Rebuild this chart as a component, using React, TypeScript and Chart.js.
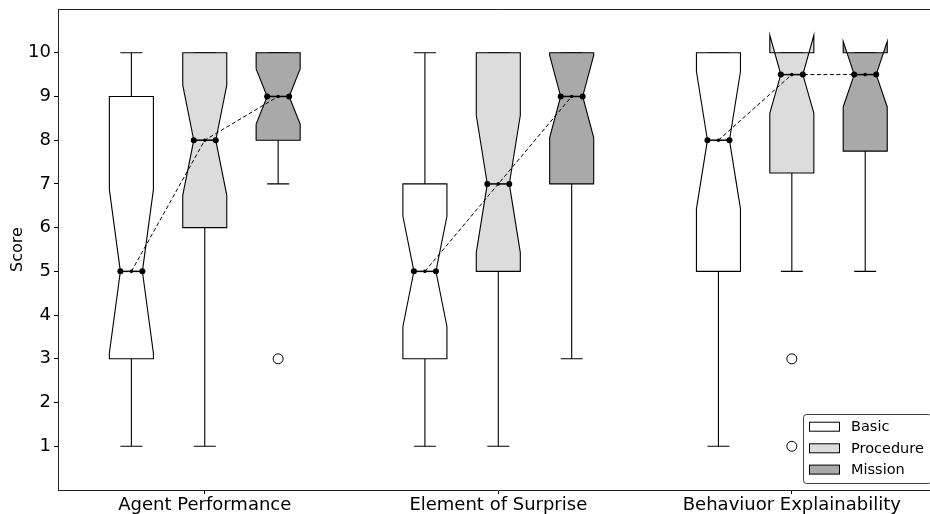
import React, { useEffect, useRef } from 'react';
import { Chart, registerables } from 'chart.js';

Chart.register(...registerables);

const categories = ['Agent Performance', 'Element of Surprise', 'Behaviuor Explainability'];
const categoryTicks = [2, 6, 10];
const seriesNames = ['Basic', 'Procedure', 'Mission'];
const seriesColors = ['#ffffff', '#dcdcdc', '#a9a9a9'];
const yTicks = [1, 2, 3, 4, 5, 6, 7, 8, 9, 10];

// [lower whisker, Q1, median, Q3, upper whisker] per category
const basicStats = [[1, 3, 5, 9, 10], [1, 3, 5, 7, 10], [1, 5, 8, 10, 10]];
const procedureStats = [[1, 6, 8, 10, 10], [1, 5, 7, 10, 10], [5, 7.25, 9.5, 10, 10]];
const missionStats = [[7, 8, 9, 10, 10], [3, 7, 9, 10, 10], [5, 7.75, 9.5, 10, 10]];

// [notch low, notch high] per category
const basicNotches = [[3.13, 6.87], [3.74, 6.26], [6.43, 9.57]];
const procedureNotches = [[6.74, 9.26], [5.43, 8.57], [8.62, 10.4]];
const missionNotches = [[8.37, 9.63], [8.06, 9.94], [8.76, 10.26]];

// outliers per category
const basicOutliers = [[], [], []];
const procedureOutliers = [[], [], [3, 1]];
const missionOutliers = [[3], [], []];

const allStats = [basicStats, procedureStats, missionStats];
const allNotches = [basicNotches, procedureNotches, missionNotches];
const allOutliers = [basicOutliers, procedureOutliers, missionOutliers];

const BOX_W = 0.6;
const FONT = "'DejaVu Sans', sans-serif";
const posOf = (g: number, s: number) => g * 4 + s + 1;

const boxPlugin = {
  id: 'notchBoxes',
  beforeDatasetsDraw(chart: any) {
    const { ctx, chartArea } = chart;
    const x = chart.scales.x;
    const y = chart.scales.y;
    ctx.save();
    // top spine
    ctx.strokeStyle = '#222';
    ctx.lineWidth = 1;
    ctx.beginPath();
    ctx.moveTo(chartArea.left, chartArea.top + 0.5);
    ctx.lineTo(chartArea.right, chartArea.top + 0.5);
    ctx.stroke();

    ctx.strokeStyle = '#000';
    ctx.lineWidth = 1.1;
    ctx.lineJoin = 'miter';
    for (let s = 0; s < 3; s++) {
      for (let g = 0; g < categories.length; g++) {
        const [lo, q1, med, q3, hi] = allStats[s][g];
        const [nlo, nhi] = allNotches[s][g];
        const p = posOf(g, s);
        const L = x.getPixelForValue(p - BOX_W / 2);
        const R = x.getPixelForValue(p + BOX_W / 2);
        const CL = x.getPixelForValue(p - BOX_W / 4);
        const CR = x.getPixelForValue(p + BOX_W / 4);
        const C = x.getPixelForValue(p);
        // whiskers
        ctx.beginPath();
        ctx.moveTo(C, y.getPixelForValue(q1));
        ctx.lineTo(C, y.getPixelForValue(lo));
        ctx.moveTo(C, y.getPixelForValue(q3));
        ctx.lineTo(C, y.getPixelForValue(hi));
        ctx.moveTo(CL, y.getPixelForValue(lo));
        ctx.lineTo(CR, y.getPixelForValue(lo));
        ctx.moveTo(CL, y.getPixelForValue(hi));
        ctx.lineTo(CR, y.getPixelForValue(hi));
        ctx.stroke();
        // notched box
        const pts: [number, number][] = [
          [L, q1], [L, nlo], [CL, med], [L, nhi], [L, q3],
          [R, q3], [R, nhi], [CR, med], [R, nlo], [R, q1],
        ];
        ctx.beginPath();
        pts.forEach(([px, v], i) => {
          const py = y.getPixelForValue(v);
          if (i === 0) ctx.moveTo(px, py); else ctx.lineTo(px, py);
        });
        ctx.closePath();
        ctx.fillStyle = seriesColors[s];
        ctx.fill();
        ctx.stroke();
      }
    }
    ctx.restore();
  },
  afterDatasetsDraw(chart: any) {
    const { ctx } = chart;
    const x = chart.scales.x;
    const y = chart.scales.y;
    ctx.save();
    for (let s = 0; s < 3; s++) {
      for (let g = 0; g < categories.length; g++) {
        const med = allStats[s][g][2];
        const p = posOf(g, s);
        const CL = x.getPixelForValue(p - BOX_W / 4);
        const CR = x.getPixelForValue(p + BOX_W / 4);
        const py = y.getPixelForValue(med);
        ctx.strokeStyle = '#000';
        ctx.lineWidth = 1.5;
        ctx.beginPath();
        ctx.moveTo(CL, py);
        ctx.lineTo(CR, py);
        ctx.stroke();
        ctx.fillStyle = '#000';
        [CL, CR].forEach((px) => {
          ctx.beginPath();
          ctx.arc(px, py, 3, 0, Math.PI * 2);
          ctx.fill();
        });
      }
    }
    ctx.restore();
  },
  afterDraw(chart: any) {
    const { ctx } = chart;
    const left = 803.5, top = 414.5, w = 128, h = 69, r = 3;
    ctx.save();
    ctx.beginPath();
    ctx.moveTo(left + r, top);
    ctx.lineTo(left + w - r, top);
    ctx.arcTo(left + w, top, left + w, top + r, r);
    ctx.lineTo(left + w, top + h - r);
    ctx.arcTo(left + w, top + h, left + w - r, top + h, r);
    ctx.lineTo(left + r, top + h);
    ctx.arcTo(left, top + h, left, top + h - r, r);
    ctx.lineTo(left, top + r);
    ctx.arcTo(left, top, left + r, top, r);
    ctx.closePath();
    ctx.fillStyle = 'rgba(255,255,255,0.8)';
    ctx.fill();
    ctx.strokeStyle = 'rgba(0,0,0,0.75)';
    ctx.lineWidth = 1;
    ctx.stroke();
    const rows = [426.7, 448.3, 469.6];
    ctx.font = `14.5px ${FONT}`;
    ctx.textBaseline = 'middle';
    ctx.textAlign = 'left';
    seriesNames.forEach((name, i) => {
      const cy = rows[i];
      ctx.fillStyle = seriesColors[i];
      ctx.fillRect(809.5, cy - 4.5, 30, 9);
      ctx.strokeStyle = '#000';
      ctx.strokeRect(809.5, cy - 4.5, 30, 9);
      ctx.fillStyle = '#000';
      ctx.fillText(name, 851, cy + 0.5);
    });
    ctx.restore();
  },
};

export default function App() {
  const canvasRef = useRef<HTMLCanvasElement | null>(null);

  useEffect(() => {
    if (!canvasRef.current) return;
    Chart.defaults.color = '#000';
    const medianLines = categories.map((_, g) => ({
      type: 'line' as const,
      data: allStats.map((st, s) => ({ x: posOf(g, s), y: st[g][2] })),
      borderColor: '#000',
      borderWidth: 1,
      borderDash: [4, 2.5],
      pointRadius: 1.8,
      pointBackgroundColor: '#000',
      pointBorderWidth: 0,
      showLine: true,
      fill: false,
      tension: 0,
    }));
    const outlierData: { x: number; y: number }[] = [];
    allOutliers.forEach((arr, s) =>
      arr.forEach((vals, g) => vals.forEach((v) => outlierData.push({ x: posOf(g, s), y: v })))
    );
    const chart = new Chart(canvasRef.current, {
      type: 'scatter',
      data: {
        datasets: [
          ...medianLines,
          {
            type: 'scatter' as const,
            data: outlierData,
            pointRadius: 5,
            pointBackgroundColor: 'rgba(255,255,255,0)',
            pointBorderColor: '#000',
            pointBorderWidth: 1,
          },
        ] as any,
      },
      options: {
        animation: false,
        responsive: true,
        maintainAspectRatio: false,
        layout: { padding: { left: 0, top: 9, right: 21.4, bottom: 0 } },
        plugins: { legend: { display: false }, tooltip: { enabled: false } },
        scales: {
          x: {
            type: 'linear',
            min: 0,
            max: 12,
            afterBuildTicks: (scale: any) => {
              scale.ticks = categoryTicks.map((v) => ({ value: v }));
            },
            afterFit: (scale: any) => {
              scale.height = 24;
              scale.paddingLeft = 0;
              scale.paddingRight = 0;
            },
            ticks: {
              font: { family: FONT, size: 18 },
              color: '#000',
              padding: 1,
              maxRotation: 0,
              autoSkip: false,
              callback: (v: any) => {
                const i = categoryTicks.indexOf(Number(v));
                return i >= 0 ? categories[i] : '';
              },
            },
            grid: { drawOnChartArea: false, drawTicks: true, tickLength: 4, color: '#000' },
            border: { display: true, color: '#222', width: 1 },
          },
          y: {
            type: 'linear',
            min: 0,
            max: 11,
            afterBuildTicks: (scale: any) => {
              scale.ticks = yTicks.map((v) => ({ value: v }));
            },
            afterFit: (scale: any) => {
              scale.width = 58;
              scale.paddingTop = 0;
              scale.paddingBottom = 0;
            },
            title: {
              display: true,
              text: 'Score',
              font: { family: FONT, size: 16 },
              color: '#000',
              padding: { top: 8.4, bottom: 0 },
            },
            ticks: {
              font: { family: FONT, size: 18 },
              color: '#000',
              padding: 3,
            },
            grid: { drawOnChartArea: false, drawTicks: true, tickLength: 4, color: '#000' },
            border: { display: true, color: '#222', width: 1 },
          },
        },
      } as any,
      plugins: [boxPlugin],
    });
    return () => chart.destroy();
  }, []);

  return (
    <div
      style={{
        position: 'fixed',
        left: 0,
        top: 0,
        width: 930,
        height: 514,
        overflow: 'hidden',
        background: '#fff',
      }}
    >
      <div style={{ width: 960, height: 514, position: 'relative' }}>
        <canvas ref={canvasRef} />
      </div>
    </div>
  );
}
